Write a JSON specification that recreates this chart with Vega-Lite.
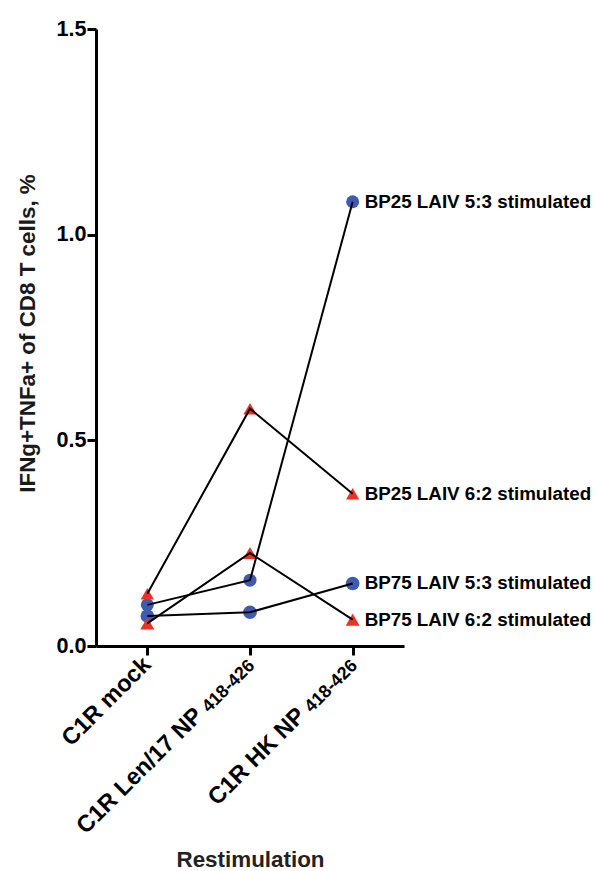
{
  "$schema": "https://vega.github.io/schema/vega-lite/v6.json",
  "autosize": {"type": "none"},
  "width": 308,
  "height": 617,
  "padding": {"left": 96, "top": 29, "right": 192, "bottom": 225},
  "background": "white",
  "config": {
    "view": {"stroke": null},
    "font": "Liberation Sans"
  },
  "data": {
    "values": [
      {"restim": "C1R mock", "series": "BP25 LAIV 5:3 stimulated", "value": 0.1},
      {"restim": "C1R Len/17 NP", "series": "BP25 LAIV 5:3 stimulated", "value": 0.16},
      {"restim": "C1R HK NP", "series": "BP25 LAIV 5:3 stimulated", "value": 1.08},
      {"restim": "C1R mock", "series": "BP25 LAIV 6:2 stimulated", "value": 0.127},
      {"restim": "C1R Len/17 NP", "series": "BP25 LAIV 6:2 stimulated", "value": 0.577},
      {"restim": "C1R HK NP", "series": "BP25 LAIV 6:2 stimulated", "value": 0.37},
      {"restim": "C1R mock", "series": "BP75 LAIV 5:3 stimulated", "value": 0.073},
      {"restim": "C1R Len/17 NP", "series": "BP75 LAIV 5:3 stimulated", "value": 0.082},
      {"restim": "C1R HK NP", "series": "BP75 LAIV 5:3 stimulated", "value": 0.152},
      {"restim": "C1R mock", "series": "BP75 LAIV 6:2 stimulated", "value": 0.055},
      {"restim": "C1R Len/17 NP", "series": "BP75 LAIV 6:2 stimulated", "value": 0.226},
      {"restim": "C1R HK NP", "series": "BP75 LAIV 6:2 stimulated", "value": 0.064}
    ]
  },
  "encoding": {
    "x": {
      "field": "restim",
      "type": "ordinal",
      "sort": ["C1R mock", "C1R Len/17 NP", "C1R HK NP"],
      "scale": {"type": "point", "padding": 0.5},
      "axis": {
        "title": "Restimulation",
        "titleFontSize": 22.4,
        "titleFontWeight": "bold",
        "titleColor": "#222222",
        "titleY": 220,
        "titleBaseline": "alphabetic",
        "domainColor": "black",
        "domainWidth": 3,
        "tickColor": "black",
        "tickWidth": 3,
        "tickSize": 9,
        "labels": false,
        "grid": false
      }
    },
    "y": {
      "field": "value",
      "type": "quantitative",
      "scale": {"domain": [0, 1.5], "nice": false, "zero": true},
      "axis": {
        "title": "IFNg+TNFa+ of CD8 T cells, %",
        "titleFontSize": 22.4,
        "titleFontWeight": "bold",
        "titleColor": "#1a1a1a",
        "titleX": -62,
        "titleY": 304,
        "titleBaseline": "alphabetic",
        "values": [0, 0.5, 1.0, 1.5],
        "format": ".1f",
        "domainColor": "black",
        "domainWidth": 3,
        "tickColor": "black",
        "tickWidth": 3,
        "tickSize": 9,
        "labelPadding": 1,
        "labelFontSize": 21.6,
        "labelFontWeight": "bold",
        "labelColor": "black",
        "grid": false
      }
    }
  },
  "layer": [
    {
      "mark": {"type": "point", "filled": true, "opacity": 1},
      "encoding": {
        "shape": {
          "field": "series",
          "type": "nominal",
          "scale": {
            "domain": ["BP25 LAIV 5:3 stimulated", "BP25 LAIV 6:2 stimulated", "BP75 LAIV 5:3 stimulated", "BP75 LAIV 6:2 stimulated"],
            "range": ["circle", "triangle-up", "circle", "triangle-up"]
          },
          "legend": null
        },
        "color": {
          "field": "series",
          "type": "nominal",
          "scale": {
            "domain": ["BP25 LAIV 5:3 stimulated", "BP25 LAIV 6:2 stimulated", "BP75 LAIV 5:3 stimulated", "BP75 LAIV 6:2 stimulated"],
            "range": ["#3f5bb0", "#ec3323", "#3f5bb0", "#ec3323"]
          },
          "legend": null
        },
        "size": {
          "field": "series",
          "type": "nominal",
          "scale": {
            "domain": ["BP25 LAIV 5:3 stimulated", "BP25 LAIV 6:2 stimulated", "BP75 LAIV 5:3 stimulated", "BP75 LAIV 6:2 stimulated"],
            "range": [169, 196, 169, 196]
          },
          "legend": null
        }
      }
    },
    {
      "mark": {"type": "line", "color": "black", "strokeWidth": 2},
      "encoding": {
        "detail": {"field": "series", "type": "nominal"}
      }
    },
    {
      "transform": [{"filter": "datum.restim === 'C1R HK NP'"}],
      "mark": {"type": "text", "align": "left", "baseline": "middle", "dx": 12, "fontSize": 18.8, "fontWeight": "bold", "color": "black"},
      "encoding": {
        "text": {"field": "series", "type": "nominal"}
      }
    },
    {
      "transform": [{"filter": "datum.restim === 'C1R mock' && datum.series === 'BP25 LAIV 5:3 stimulated'"}],
      "mark": {"type": "text", "align": "right", "baseline": "middle", "angle": -45, "dx": -10.6, "dy": 10.6, "fontSize": 23.5, "fontWeight": "bold", "color": "black"},
      "encoding": {
        "y": {"datum": 0},
        "text": {"field": "restim", "type": "nominal"}
      }
    },
    {
      "transform": [{"filter": "datum.restim !== 'C1R mock' && datum.series === 'BP25 LAIV 5:3 stimulated'"}],
      "mark": {"type": "text", "align": "right", "baseline": "middle", "angle": -45, "dx": -82.6, "dy": 10.6, "fontSize": 23.5, "fontWeight": "bold", "color": "black"},
      "encoding": {
        "y": {"datum": 0},
        "text": {"field": "restim", "type": "nominal"}
      }
    },
    {
      "transform": [{"filter": "datum.restim !== 'C1R mock' && datum.series === 'BP25 LAIV 5:3 stimulated'"}],
      "mark": {"type": "text", "align": "right", "baseline": "middle", "angle": -45, "dx": -10.6, "dy": 13.6, "fontSize": 18, "fontWeight": "bold", "color": "black"},
      "encoding": {
        "y": {"datum": 0},
        "text": {"value": "418-426"}
      }
    }
  ]
}
